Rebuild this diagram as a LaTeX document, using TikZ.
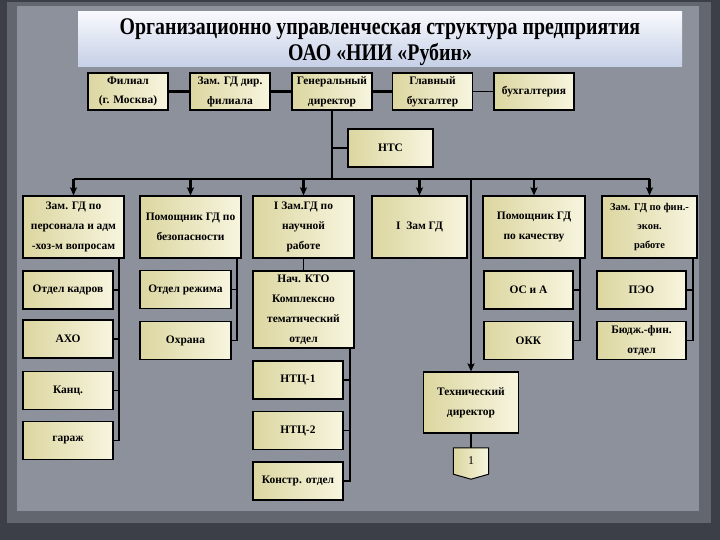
\documentclass[tikz,border=0pt]{standalone}
\usepackage{fontspec}
\setmainfont{Liberation Serif}
\newfontfamily\titlefont[FakeStretch=0.83]{Liberation Serif}
\usepackage{tikz}
\usetikzlibrary{arrows.meta}

\definecolor{frame}{HTML}{3C3F47}
\definecolor{rim}{HTML}{62676F}
\definecolor{paper}{HTML}{8C919C}
\definecolor{boxl}{HTML}{DCD6A0}
\definecolor{boxr}{HTML}{F7F5DF}
\definecolor{bant}{HTML}{F8F9FD}
\definecolor{banb}{HTML}{C5CFE6}

\begin{document}
\begin{tikzpicture}[x=1bp,y=-1bp,
  box/.style={draw=black, line width=1.2bp, left color=boxl, right color=boxr,
    align=center, inner sep=1bp, font=\fontsize{11.5}{20}\selectfont\bfseries},
  toprow/.style={box, minimum width=80bp, minimum height=37bp},
  head/.style={box, minimum width=101bp, minimum height=62bp},
  unit/.style={box, minimum width=90bp, minimum height=38bp},
  main/.style={line width=2.4bp},
  sub/.style={line width=1.8bp},
  arr/.style={main, -{Stealth[length=8bp,width=7bp,inset=1.5bp]}}]
      \useasboundingbox (0,0) rectangle (720,540);
      \fill[frame] (0,0) rectangle (720,540);
      \fill[rim] (7,2) rectangle (711,523);
      \fill[paper] (17,6) rectangle (699,511);

      \shade[top color=bant, bottom color=banb] (78,12) rectangle (682,67);
      \node[align=center, font=\titlefont\fontsize{24}{26}\selectfont\bfseries] (title) at (380,42.5)
        {Организационно управленческая структура предприятия\\ОАО «НИИ «Рубин»};

      \node[toprow] (fil) at (128,91.5) {Филиал\\(г. Москва)};
      \node[toprow] (zamf) at (230,91.5) {Зам. ГД дир.\\филиала};
      \node[toprow] (gd) at (332,91.5) {Генеральный\\директор};
      \node[toprow] (gb) at (432.5,91.5) {Главный\\бухгалтер};
      \node[toprow] (buh) at (534,91.5) {бухгалтерия};
      \node[box, minimum width=85bp, minimum height=38bp] (ntc) at (390.5,148) {НТС};

      \node[head] (zper) at (73.5,227) {Зам. ГД по\\персонала и адм\\-хоз-м вопросам};
      \node[head] (pbez) at (190.5,227) {Помощник ГД по\\безопасности};
      \node[head] (znauch) at (303.5,227) {I Зам.ГД по\\научной\\работе};
      \node[head, minimum width=95bp] (izam) at (419.5,227) {I\ \ Зам ГД};
      \node[head, minimum width=102bp] (pkach) at (534,227) {Помощник ГД\\по качеству};
      \node[head, minimum width=95bp, font=\fontsize{10.5}{19}\selectfont\bfseries] (zfin) at (649.5,227) {Зам. ГД по фин.-\\экон.\\работе};

      \node[unit] (kadr) at (68,290) {Отдел кадров};
      \node[unit] (aho) at (68,339) {АХО};
      \node[unit] (kanc) at (68,390.5) {Канц.};
      \node[unit] (garazh) at (68,440.5) {гараж};
      \node[unit, minimum width=91bp] (rezh) at (185.5,289.5) {Отдел режима};
      \node[unit, minimum width=91bp] (ohr) at (185.5,340.5) {Охрана};
      \node[box, minimum width=101bp, minimum height=77bp] (nkto) at (303.5,309.5) {Нач. КТО\\Комплексно\\тематический\\отдел};
      \node[unit] (ntc1) at (298,380) {НТЦ-1};
      \node[unit] (ntc2) at (298,430.5) {НТЦ-2};
      \node[unit] (konstr) at (298,481) {Констр. отдел};
      \node[unit, minimum width=89bp] (osa) at (528.5,290) {ОС и А};
      \node[unit, minimum width=89bp] (okk) at (528.5,340.5) {ОКК};
      \node[unit, minimum width=89bp] (peo) at (641.5,290) {ПЭО};
      \node[unit, minimum width=89bp] (bfin) at (641.5,340.5) {Бюдж.-фин.\\отдел};
      \node[box, minimum width=95bp, minimum height=61bp] (tech) at (471,402.5) {Технический\\директор};

      \node[minimum width=35bp, minimum height=26bp, inner sep=0pt] (pg) at (471,461) {};
      \draw[line width=1bp, left color=boxl, right color=boxr] (pg.north west) -- (pg.north east)
        -- (pg.south east) -- ([yshift=-5bp]pg.south) -- (pg.south west) -- cycle;
      \node[font=\fontsize{12}{14}\selectfont] (pgnum) at (pg) {1};

      \draw[main] (fil) -- (zamf);
      \draw[main] (zamf) -- (gd);
      \draw[main] (gd) -- (gb);
      \draw[sub] (gb) -- (buh);

      \coordinate (bus) at (332,179);
      \draw[main] (gd) -- (bus);
      \draw[main] (ntc) -- (ntc -| bus);
      \draw[main] (zper |- bus) -- (zfin |- bus);
      \foreach \n in {zper,pbez,znauch,izam,pkach,zfin}
        \draw[arr] (\n |- bus) -- (\n);
      \draw[arr] (tech |- bus) -- (tech);
      \draw[main] (tech) -- (pg);

      \draw[sub] ([xshift=-6bp]zper.south east) coordinate (v1) |- (garazh);
      \foreach \n in {kadr,aho,kanc}
        \draw[sub] (\n) -- (\n -| v1);
      \draw[sub] ([xshift=-5bp]pbez.south east) coordinate (v2) |- (ohr);
      \draw[sub] (rezh) -- (rezh -| v2);
      \draw[sub] (znauch) -- (nkto);
      \draw[sub] ([xshift=-5bp]nkto.south east) coordinate (v3) |- (konstr);
      \foreach \n in {ntc1,ntc2}
        \draw[sub] (\n) -- (\n -| v3);
      \draw[sub] ([xshift=-6bp]pkach.south east) coordinate (v4) |- (okk);
      \draw[sub] (osa) -- (osa -| v4);
      \draw[sub] ([xshift=-5bp]zfin.south east) coordinate (v5) |- (bfin);
      \draw[sub] (peo) -- (peo -| v5);
\end{tikzpicture}
\end{document}
